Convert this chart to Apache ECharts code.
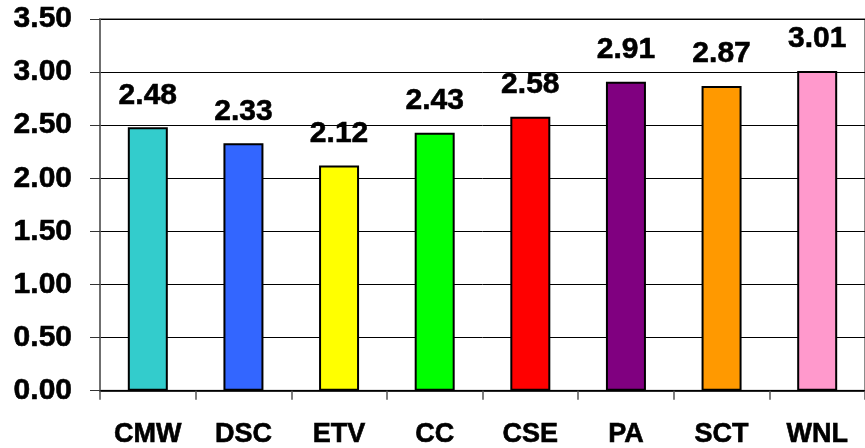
<!DOCTYPE html>
<html>
<head>
<meta charset="utf-8">
<script src="https://cdn.jsdelivr.net/npm/echarts@6/dist/echarts.min.js"></script>
<style>
html,body{margin:0;padding:0;background:#fff;}
#chart{width:865px;height:448px;}
</style>
</head>
<body>
<div id="chart"></div>
<script>
const categories = ['CMW', 'DSC', 'ETV', 'CC', 'CSE', 'PA', 'SCT', 'WNL'];
const values = [2.48, 2.33, 2.12, 2.43, 2.58, 2.91, 2.87, 3.01];
const barColors = ['#33CCCC', '#3366FF', '#FFFF00', '#00FF00', '#FF0000', '#800080', '#FF9900', '#FF99CC'];
const yTicks = ['0.00', '0.50', '1.00', '1.50', '2.00', '2.50', '3.00', '3.50'];

const FONT = '"Liberation Sans", Arial, sans-serif';
const chart = echarts.init(document.getElementById('chart'));
chart.setOption({
  animation: false,
  backgroundColor: '#fff',
  grid: {
    left: 100, top: 19, width: 772, height: 373,
    show: true, borderColor: '#8c8c8c', borderWidth: 2, backgroundColor: 'transparent'
  },
  xAxis: {
    type: 'category',
    data: categories,
    axisLine: { show: true, lineStyle: { color: '#000', width: 1.5 } },
    axisTick: { show: true, length: 9, alignWithLabel: false, lineStyle: { color: '#555', width: 1.5 } },
    axisLabel: { margin: 30, fontFamily: FONT, fontWeight: 'bold', fontSize: 27, color: '#000',
      textBorderColor: '#000', textBorderWidth: 0.6 },
    splitLine: { show: false }
  },
  yAxis: {
    type: 'value',
    min: 0, max: 3.5, interval: 0.5,
    axisLine: { show: true, lineStyle: { color: '#666', width: 1.5 } },
    axisTick: { show: true, length: 10, lineStyle: { color: '#333', width: 1 } },
    axisLabel: {
      margin: 28, fontFamily: FONT, fontWeight: 'bold', fontSize: 30, color: '#000',
      textBorderColor: '#000', textBorderWidth: 0.6,
      formatter: function (v) { return yTicks[Math.round(v / 0.5)]; }
    },
    splitLine: { show: true, lineStyle: { color: '#000', width: 1 } }
  },
  series: [{
    type: 'bar',
    data: values.map(function (v, i) {
      return { value: v, itemStyle: { color: barColors[i] } };
    }),
    barWidth: 40,
    itemStyle: { borderColor: '#000', borderWidth: 2 },
    label: {
      show: true, position: 'top', distance: 17,
      fontFamily: FONT, fontWeight: 'bold', fontSize: 30, color: '#000',
      textBorderColor: '#000', textBorderWidth: 0.6,
      formatter: function (p) { return p.value.toFixed(2); }
    }
  }]
});
</script>
</body>
</html>
